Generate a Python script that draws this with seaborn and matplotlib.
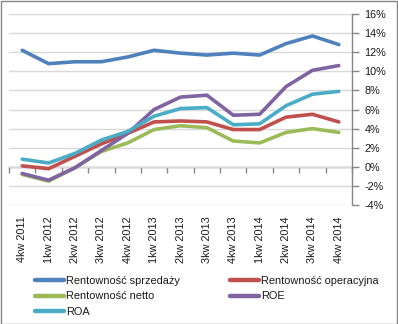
import numpy as np
import pandas as pd
import matplotlib
matplotlib.use("Agg")
import matplotlib.pyplot as plt
from matplotlib.patches import Rectangle
from matplotlib.ticker import FuncFormatter
from matplotlib.lines import Line2D
import seaborn as sns

categories = ["4kw 2011", "1kw 2012", "2kw 2012", "3kw 2012", "4kw 2012",
              "1kw 2013", "2kw 2013", "3kw 2013", "4kw 2013",
              "1kw 2014", "2kw 2014", "3kw 2014", "4kw 2014"]
sprzedazy = [12.2, 10.8, 11.0, 11.0, 11.5, 12.2, 11.9, 11.7, 11.9, 11.7, 12.9, 13.7, 12.8]
operacyjna = [0.1, -0.2, 1.1, 2.4, 3.5, 4.7, 4.8, 4.7, 3.9, 3.9, 5.2, 5.5, 4.7]
netto = [-0.8, -1.5, -0.1, 1.6, 2.5, 3.9, 4.3, 4.1, 2.7, 2.5, 3.6, 4.0, 3.6]
roe = [-0.7, -1.4, -0.1, 1.7, 3.5, 6.0, 7.3, 7.5, 5.4, 5.5, 8.4, 10.1, 10.6]
roa = [0.8, 0.4, 1.4, 2.8, 3.7, 5.3, 6.1, 6.2, 4.4, 4.5, 6.4, 7.6, 7.9]
series_names = ["Rentowność sprzedaży", "Rentowność operacyjna", "Rentowność netto", "ROE", "ROA"]
series_values = [sprzedazy, operacyjna, netto, roe, roa]
colors = ["#4F81BD", "#C0504D", "#9BBB59", "#8064A2", "#4BACC6"]
y_ticks = [-4, -2, 0, 2, 4, 6, 8, 10, 12, 14, 16]

rows = []
for name, vals in zip(series_names, series_values):
    for i, v in enumerate(vals):
        rows.append({"x": i, "value": v, "series": name})
df = pd.DataFrame(rows)

sns.set_theme(style="white")
plt.rcParams["font.family"] = ["Liberation Sans", "DejaVu Sans"]

W, H = 398, 324
fig = plt.figure(figsize=(W / 100, H / 100), dpi=100)
ax = fig.add_axes([9 / W, 1 - 205 / H, (352 - 9) / W, (205 - 14) / H])

sns.lineplot(data=df, x="x", y="value", hue="series", hue_order=series_names,
             palette=colors, linewidth=2.6, ax=ax, legend=False, sort=False)

ax.set_xlim(-0.5, len(categories) - 0.5)
ax.set_ylim(-4, 16)
ax.set_xlabel("")
ax.set_ylabel("")

# gridlines
ax.set_yticks(y_ticks)
ax.yaxis.grid(True, color="#D9D9D9", linewidth=1)
ax.xaxis.grid(False)
ax.set_axisbelow(True)

# y axis on right
ax.yaxis.tick_right()
ax.yaxis.set_major_formatter(FuncFormatter(lambda v, p: f"{int(v)}%"))
ax.tick_params(axis="y", which="major", right=True, left=False, length=5, width=1,
               color="#868686", pad=4, labelsize=7.8, labelcolor="#1a1a1a", direction="out")
for s in ["left", "top", "bottom"]:
    ax.spines[s].set_visible(False)
ax.spines["right"].set_color("#868686")
ax.spines["right"].set_linewidth(1)

# category labels
ax.set_xticks(range(len(categories)))
ax.set_xticklabels(categories, rotation=90, fontsize=7.8, color="#1a1a1a", va="top")
ax.tick_params(axis="x", which="major", length=0, pad=8)

# zero axis line with boundary ticks
sec = ax.secondary_xaxis(location=0.2)
sec.set_xticks(np.arange(-0.5, len(categories) - 0.4, 1.0))
sec.set_xticklabels([])
sec.tick_params(axis="x", length=4, width=1, color="#868686", direction="out")
sec.spines["bottom"].set_color("#868686")
sec.spines["bottom"].set_linewidth(1)

# legend
handles = {n: Line2D([0], [0], color=c, linewidth=3.2) for n, c in zip(series_names, colors)}
order = ["Rentowność sprzedaży", "Rentowność netto", "ROA", "Rentowność operacyjna", "ROE"]
fig.legend([handles[n] for n in order], order, loc="upper left",
           bbox_to_anchor=(35 / W, 1 - 276 / H), ncol=2, frameon=False,
           fontsize=7.9, handlelength=2.6, handletextpad=0.2, columnspacing=4.6,
           labelspacing=0.5, borderpad=0, borderaxespad=0, labelcolor="#1a1a1a")

fig.patches.append(Rectangle((0.5 / W, 0.5 / H), 1 - 1.5 / W, 1 - 1.5 / H,
                             transform=fig.transFigure, fill=False,
                             edgecolor="#868686", linewidth=1))

fig.savefig("out.png", dpi=100)
